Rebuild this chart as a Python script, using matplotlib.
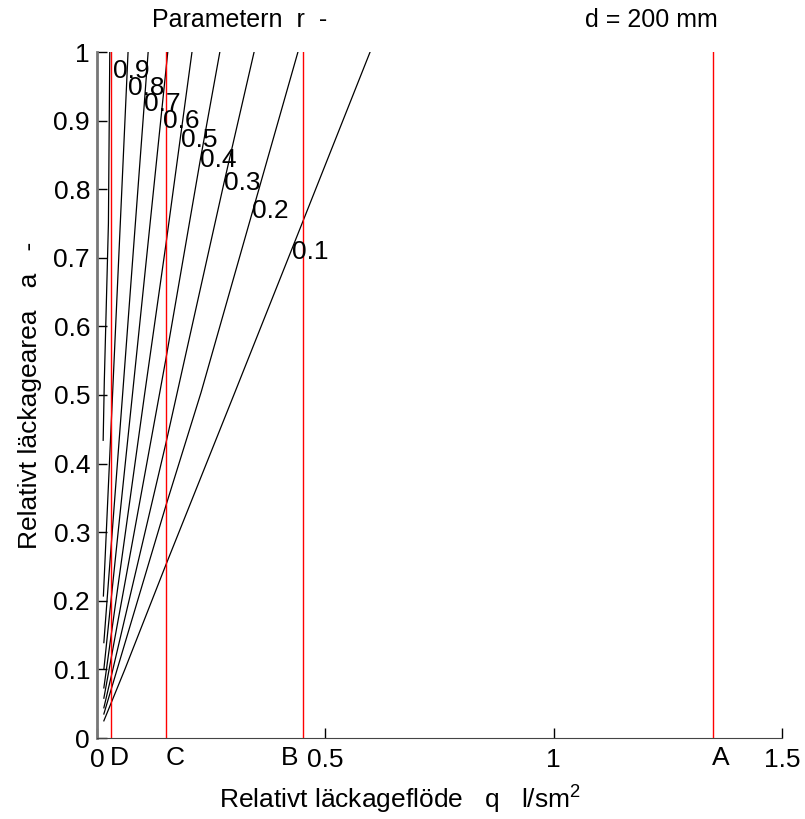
import numpy as np
import matplotlib
matplotlib.use("Agg")
import matplotlib.pyplot as plt

plt.rcParams["font.family"] = ["Liberation Sans", "DejaVu Sans"]
plt.rcParams["mathtext.default"] = "regular"

# contour lines: r value -> (q, a) points
r_values = [0.1, 0.2, 0.3, 0.4, 0.5, 0.6, 0.7, 0.8, 0.9]
line_q = [
    [0.015, 0.061, 0.150, 0.302, 0.449, 0.598],
    [0.015, 0.151, 0.228, 0.340, 0.440],
    [0.015, 0.151, 0.278, 0.344],
    [0.015, 0.151, 0.226, 0.269],
    [0.015, 0.104, 0.151, 0.208],
    [0.015, 0.0775, 0.155],
    [0.015, 0.056, 0.112],
    [0.014, 0.034, 0.068],
    [0.0135, 0.016, 0.025, 0.028],
]
line_a = [
    [0.025, 0.10, 0.251, 0.504, 0.75, 1.0],
    [0.035, 0.339, 0.504, 0.766, 1.0],
    [0.044, 0.43, 0.809, 1.0],
    [0.058, 0.553, 0.842, 1.0],
    [0.073, 0.50, 0.72, 1.0],
    [0.10, 0.50, 1.0],
    [0.139, 0.50, 1.0],
    [0.207, 0.50, 1.0],
    [0.434, 0.52, 0.75, 1.0],
]
# where the contour labels sit (left edge, vertical centre)
label_q = [0.427, 0.339, 0.278, 0.2255, 0.184, 0.1445, 0.103, 0.068, 0.035]
label_a = [0.709, 0.768, 0.809, 0.842, 0.872, 0.899, 0.924, 0.947, 0.972]

# marked leakage classes
class_names = ["D", "C", "B", "A"]
class_q = [0.030, 0.151, 0.450, 1.349]
class_text_q = [0.048, 0.170, 0.421, 1.367]

fs = 19

fig = plt.figure(figsize=(8.05, 8.19), dpi=100)
ax = fig.add_axes([97 / 805, 1 - 738 / 819, 685 / 805, 686 / 819])

for q, a in zip(line_q, line_a):
    ax.plot(q, a, color="black", lw=0.9)

for r, q, a in zip(r_values, label_q, label_a):
    ax.text(q, a, f"{r:g}", fontsize=fs, ha="left", va="center")

for name, q, tq in zip(class_names, class_q, class_text_q):
    ax.plot([q, q], [0, 1], color="red", lw=1)
    ax.text(tq, -0.012, name, fontsize=fs, ha="center", va="top")

ax.set_xlim(0, 1.5)
ax.set_ylim(0, 1)
ax.set_xticks([0, 0.5, 1, 1.5])
ax.set_xticklabels(["0", "0.5", "1", "1.5"])
yt = np.round(np.arange(0, 1.01, 0.1), 1)
ax.set_yticks(yt)
ax.set_yticklabels([f"{v:g}" for v in yt])
ax.tick_params(direction="in", length=7, labelsize=fs, width=1)
ax.tick_params(axis="x", pad=7)
ax.tick_params(axis="y", pad=5)

ax.spines["top"].set_visible(False)
ax.spines["right"].set_visible(False)
ax.spines["left"].set_color("#777777")
ax.spines["left"].set_linewidth(2)
ax.spines["bottom"].set_color("#444444")

ax.set_xlabel("Relativt läckageflöde   q   l/sm$^2$", fontsize=fs)
ax.xaxis.set_label_coords((400 - 97) / 685, -(800 - 738) / 686)
ax.xaxis.label.set_va("center")
ax.set_ylabel("Relativt läckagearea   a   -", fontsize=fs)
ax.yaxis.set_label_coords((30 - 97) / 685, 0.5)
ax.yaxis.label.set_va("center")

fig.text(152 / 805, 1 - 20 / 819, "Parametern  r  -", fontsize=18, va="center")
fig.text(585 / 805, 1 - 20 / 819, "d = 200 mm", fontsize=18, va="center")

fig.savefig("out.png", dpi=100)
